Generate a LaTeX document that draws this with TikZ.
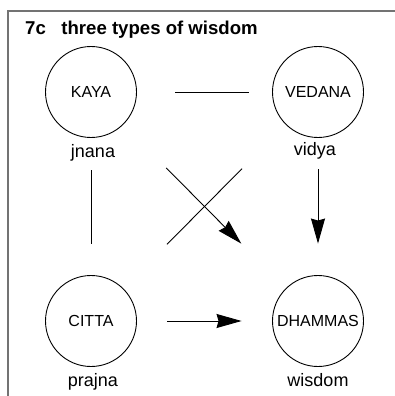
\documentclass[tikz,border=0pt]{standalone}
\usepackage{fontspec}
\setmainfont{Liberation Sans}
\usetikzlibrary{arrows.meta}
\begin{document}
\begin{tikzpicture}[x=1pt,y=-1pt,
  state/.style={draw, circle, line width=0.9pt, minimum size=91pt, inner sep=0pt,
    font=\fontsize{16}{16}\selectfont},
  caption/.style={anchor=base, inner sep=0pt, font=\fontsize{18}{18}\selectfont},
  link/.style={line width=0.9pt},
  flow/.style={line width=0.9pt, -{Stealth[length=25pt, width=14pt, inset=2pt]}},
  frame/.style={draw=black!55, line width=1.5pt}]
  \useasboundingbox (0,0) rectangle (394,396);

  % open frame along top and left
  \coordinate (fr) at (396,11);
  \coordinate (fc) at (8,11);
  \coordinate (fb) at (8,398);
  \draw[frame] (fr) -- (fc) -- (fb);

  \node[anchor=base west, inner sep=0pt, font=\fontsize{18.6}{18.6}\selectfont\bfseries]
    (title) at (25,35) {7c\ \ \ three types of wisdom};

  % the four states
  \node[state] (kaya)    at (91,92)   {KAYA};
  \node[state] (vedana)  at (318,92)  {VEDANA};
  \node[state] (citta)   at (91,321)  {CITTA};
  \node[state] (dhammas) at (318,321) {DHAMMAS};

  % their names
  \node[caption] (jnana)  at (93,157)  {jnana};
  \node[caption] (vidya)  at (315,155) {vidya};
  \node[caption] (prajna) at (93,386)  {prajna};
  \node[caption] (wisdom) at (318,386) {wisdom};

  % connectors
  \draw[link, shorten <=38.5pt, shorten >=23.5pt] (kaya) -- (vedana);
  \draw[link, shorten <=32.5pt, shorten >=31.5pt] (kaya) -- (citta);
  \draw[link, shorten <=62pt, shorten >=62pt] (citta) -- (vedana);
  \draw[flow, shorten <=61pt, shorten >=63pt] (kaya) -- (dhammas);
  \draw[flow, shorten <=31.5pt, shorten >=31.5pt] (vedana) -- (dhammas);
  \draw[flow, shorten <=30.5pt, shorten >=30.5pt] (citta) -- (dhammas);
\end{tikzpicture}
\end{document}
